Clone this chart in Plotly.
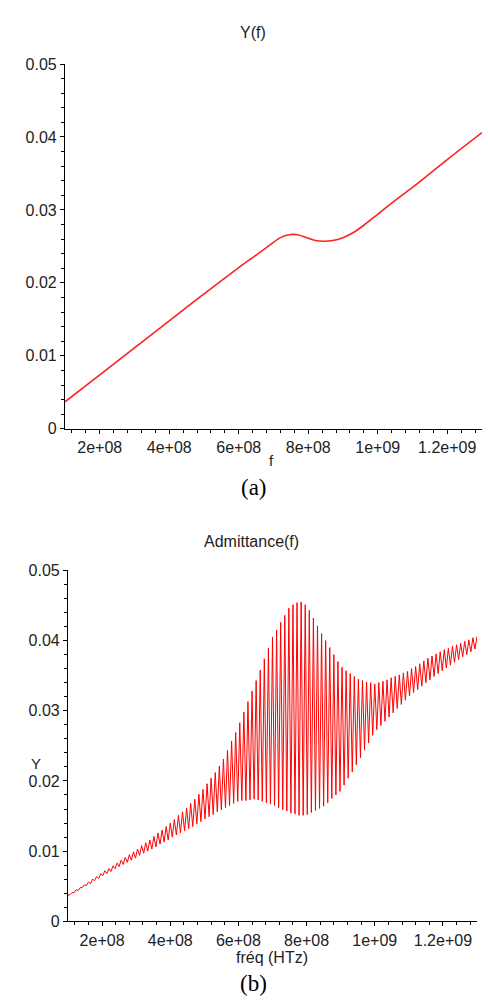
import numpy as np
import plotly.graph_objects as go

# ---------------- data ----------------
# (a) smooth admittance Y(f)
f_a_mhz = [100, 200, 300, 400, 500, 550, 600, 650, 690, 720, 745, 770, 795, 820,
           845, 870, 900, 930, 960, 1000, 1050, 1100, 1200, 1300]
y_a = [0.0037, 0.0074, 0.0111, 0.0148, 0.0185, 0.0203, 0.0221, 0.0238, 0.0252, 0.0262,
       0.0266, 0.0266, 0.0262, 0.0258, 0.0257, 0.0258, 0.0262, 0.0269, 0.0279, 0.0294,
       0.0313, 0.0331, 0.0369, 0.0406]

# (b) oscillating admittance: successive maxima and minima of each cycle
peak_f_mhz = list(range(100, 1301, 12))
peak_y = [0.0037, 0.0041, 0.0045, 0.0048, 0.0052, 0.0056, 0.0060, 0.0064, 0.0068, 0.0072,
          0.0075, 0.0079, 0.0083, 0.0087, 0.0091, 0.0095, 0.0099, 0.0103, 0.0108, 0.0112,
          0.0116, 0.0121, 0.0126, 0.0130, 0.0135, 0.0140, 0.0145, 0.0151, 0.0156, 0.0161,
          0.0168, 0.0174, 0.0181, 0.0188, 0.0196, 0.0204, 0.0212, 0.0221, 0.0231, 0.0244,
          0.0257, 0.0269, 0.0283, 0.0298, 0.0313, 0.0328, 0.0343, 0.0358, 0.0374, 0.0389,
          0.0405, 0.0415, 0.0426, 0.0436, 0.0446, 0.0451, 0.0454, 0.0455, 0.0451, 0.0443,
          0.0432, 0.0421, 0.0410, 0.0400, 0.0390, 0.0380, 0.0370, 0.0362, 0.0357, 0.0353,
          0.0349, 0.0345, 0.0343, 0.0341, 0.0340, 0.0338, 0.0340, 0.0342, 0.0344, 0.0347,
          0.0349, 0.0351, 0.0354, 0.0356, 0.0360, 0.0363, 0.0367, 0.0371, 0.0375, 0.0378,
          0.0381, 0.0384, 0.0387, 0.0389, 0.0392, 0.0394, 0.0396, 0.0399, 0.0401, 0.0404,
          0.0406]
trough_f_mhz = list(range(106, 1295, 12))
trough_y = [0.0038, 0.0041, 0.0044, 0.0048, 0.0051, 0.0054, 0.0058, 0.0061, 0.0065, 0.0068,
            0.0071, 0.0075, 0.0078, 0.0081, 0.0084, 0.0087, 0.0090, 0.0094, 0.0097, 0.0100,
            0.0103, 0.0106, 0.0110, 0.0113, 0.0116, 0.0120, 0.0123, 0.0126, 0.0129, 0.0132,
            0.0135, 0.0139, 0.0142, 0.0146, 0.0149, 0.0152, 0.0156, 0.0159, 0.0162, 0.0165,
            0.0168, 0.0171, 0.0172, 0.0172, 0.0173, 0.0174, 0.0173, 0.0171, 0.0169, 0.0167,
            0.0165, 0.0162, 0.0159, 0.0157, 0.0154, 0.0153, 0.0151, 0.0151, 0.0152, 0.0155,
            0.0158, 0.0161, 0.0164, 0.0169, 0.0175, 0.0180, 0.0185, 0.0194, 0.0204, 0.0213,
            0.0223, 0.0233, 0.0244, 0.0254, 0.0265, 0.0273, 0.0279, 0.0285, 0.0291, 0.0297,
            0.0303, 0.0309, 0.0315, 0.0321, 0.0326, 0.0330, 0.0335, 0.0340, 0.0344, 0.0349,
            0.0353, 0.0357, 0.0361, 0.0365, 0.0369, 0.0373, 0.0377, 0.0380, 0.0384, 0.0388]

x_tickvals = [2e8, 4e8, 6e8, 8e8, 1e9, 1.2e9]
x_ticktext = ["2e+08", "4e+08", "6e+08", "8e+08", "1e+09", "1.2e+09"]
y_tickvals = [0, 0.01, 0.02, 0.03, 0.04, 0.05]
y_ticktext = ["0", "0.01", "0.02", "0.03", "0.04", "0.05"]

# ---------------- build ----------------
f_a = np.array(f_a_mhz) * 1e6
xb, yb = [], []
for i in range(len(trough_y)):
    xb += [peak_f_mhz[i] * 1e6, trough_f_mhz[i] * 1e6]
    yb += [peak_y[i], trough_y[i]]
xb.append(peak_f_mhz[-1] * 1e6)
yb.append(peak_y[-1])

W, H = 488, 1008
FONT = "Liberation Sans, Arial, sans-serif"
TXT = "#222222"
TS = 16

fig = go.Figure()
fig.add_trace(go.Scatter(x=f_a, y=y_a, mode="lines",
                         line=dict(color="#ff2020", width=1.6, shape="spline", smoothing=0.8),
                         xaxis="x", yaxis="y", showlegend=False))
fig.add_trace(go.Scatter(x=xb, y=yb, mode="lines", line=dict(color="#ff0000", width=1.0),
                         xaxis="x2", yaxis="y2", showlegend=False))


def xax(domain, anchor):
    return dict(domain=domain, anchor=anchor, range=[1e8, 1.3e9], showgrid=False, zeroline=False,
                showline=True, linecolor="black", linewidth=1.2, ticks="outside", ticklen=4,
                tickcolor="black", tickvals=x_tickvals, ticktext=x_ticktext,
                tickfont=dict(family=FONT, size=TS, color=TXT),
                minor=dict(tickmode="linear", tick0=0, dtick=4e7, ticks="outside", ticklen=3,
                           tickcolor="black", showgrid=False))


def yax(domain, anchor):
    return dict(domain=domain, anchor=anchor, range=[0, 0.05], showgrid=False, zeroline=False,
                showline=True, linecolor="black", linewidth=1.2, ticks="outside", ticklen=4,
                tickcolor="black", tickvals=y_tickvals, ticktext=y_ticktext,
                tickfont=dict(family=FONT, size=TS, color=TXT),
                minor=dict(tickmode="linear", tick0=0, dtick=0.002, ticks="outside", ticklen=3,
                           tickcolor="black", showgrid=False))


fig.update_layout(
    width=W, height=H, margin=dict(l=0, r=0, t=0, b=0),
    paper_bgcolor="white", plot_bgcolor="white",
    xaxis=xax([65 / W, 482 / W], "y"),
    yaxis=yax([1 - 428 / H, 1 - 57 / H], "x"),
    xaxis2=xax([68 / W, 477 / W], "y2"),
    yaxis2=yax([1 - 929 / H, 1 - 572 / H], "x2"),
)


def txt(s, x, y, size=16, family=FONT, color=TXT):
    fig.add_annotation(text=s, x=x / W, y=1 - y / H, xref="paper", yref="paper", showarrow=False,
                       xanchor="center", yanchor="middle", font=dict(family=family, size=size, color=color))


txt("Y(f)", 253, 25)
txt("f", 271, 460, size=15)
txt("(a)", 254, 488, size=23, family="Liberation Serif, Times New Roman, serif", color="black")
txt("Admittance(f)", 251, 543)
txt("Y", 36, 768, size=15)
txt("fréq (HTz)", 272, 966)
txt("(b)", 254, 992, size=23, family="Liberation Serif, Times New Roman, serif", color="black")

fig.write_html("out.html", config={"displayModeBar": False},
               post_script="document.body.style.margin='0';document.body.style.overflow='hidden';")
